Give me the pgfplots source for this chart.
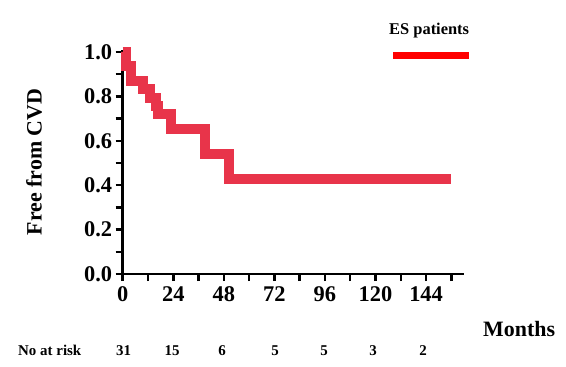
\documentclass[border=0pt]{standalone}
\usepackage{fontspec}
\setmainfont{Liberation Serif}
\usepackage{pgfplots}
\pgfplotsset{compat=1.18}
\definecolor{kmred}{RGB}{232,52,74}
\begin{document}
\begin{tikzpicture}
\path[use as bounding box] (-122.7bp,-93bp) rectangle (443.3bp,274bp);
\begin{axis}[
  at={(0,0)}, anchor=south west,
  scale only axis, width=341.3bp, height=224.2bp,
  xmin=0, xmax=162, ymin=0, ymax=1.01,
  axis lines=left,
  axis line style={-, line width=2.5bp, black},
  xtick={0,24,...,144}, minor xtick={12,36,...,156},
  ytick={0,0.2,...,1.0}, minor ytick={0.1,0.3,...,0.9},
  tick align=outside,
  major tick length=7bp, minor tick length=7bp,
  tick style={line width=2.5bp, black},
  /pgf/number format/assume math mode=true,
  tick label style={font=\fontsize{22.5}{22.5}\selectfont\bfseries},
  yticklabel style={/pgf/number format/.cd, fixed, fixed zerofill, precision=1},
  xticklabel style={yshift=-2bp, /pgf/number format/.cd, fixed, precision=0},
  clip=false,
]
\addplot[const plot, kmred, line width=10bp] coordinates {
(0,1) (1.5,0.935) (4,0.871) (9.8,0.835) (12.9,0.795) (15.8,0.755) (16.6,0.722) (22.9,0.653) (39.3,0.542) (50.5,0.43) (156,0.43)
};
\end{axis}
\node[rotate=90, anchor=base, inner sep=0pt, font=\fontsize{22}{22}\selectfont\bfseries] at (-81bp,112bp) {Free from CVD};
\node[anchor=base west, inner sep=0pt, font=\fontsize{22}{22}\selectfont\bfseries] at (360.3bp,-62.7bp) {Months};
\node[anchor=base west, inner sep=0pt, font=\fontsize{15}{15}\selectfont\bfseries] at (-104.7bp,-81bp) {No at risk};
\foreach \xx/\nn in {0.8/31,49.3/15,99.3/6,152.3/5,201.3/5,250.3/3,300.3/2}{
  \node[anchor=base, inner sep=0pt, font=\fontsize{15}{15}\selectfont\bfseries] at (\xx bp,-81bp) {\nn};
}
\node[anchor=base west, inner sep=0pt, font=\fontsize{16.5}{16.5}\selectfont\bfseries] at (266.3bp,239.7bp) {ES patients};
\draw[red, line width=7.6bp] (270.3bp,218.5bp) -- (346.3bp,218.5bp);
\end{tikzpicture}
\end{document}
